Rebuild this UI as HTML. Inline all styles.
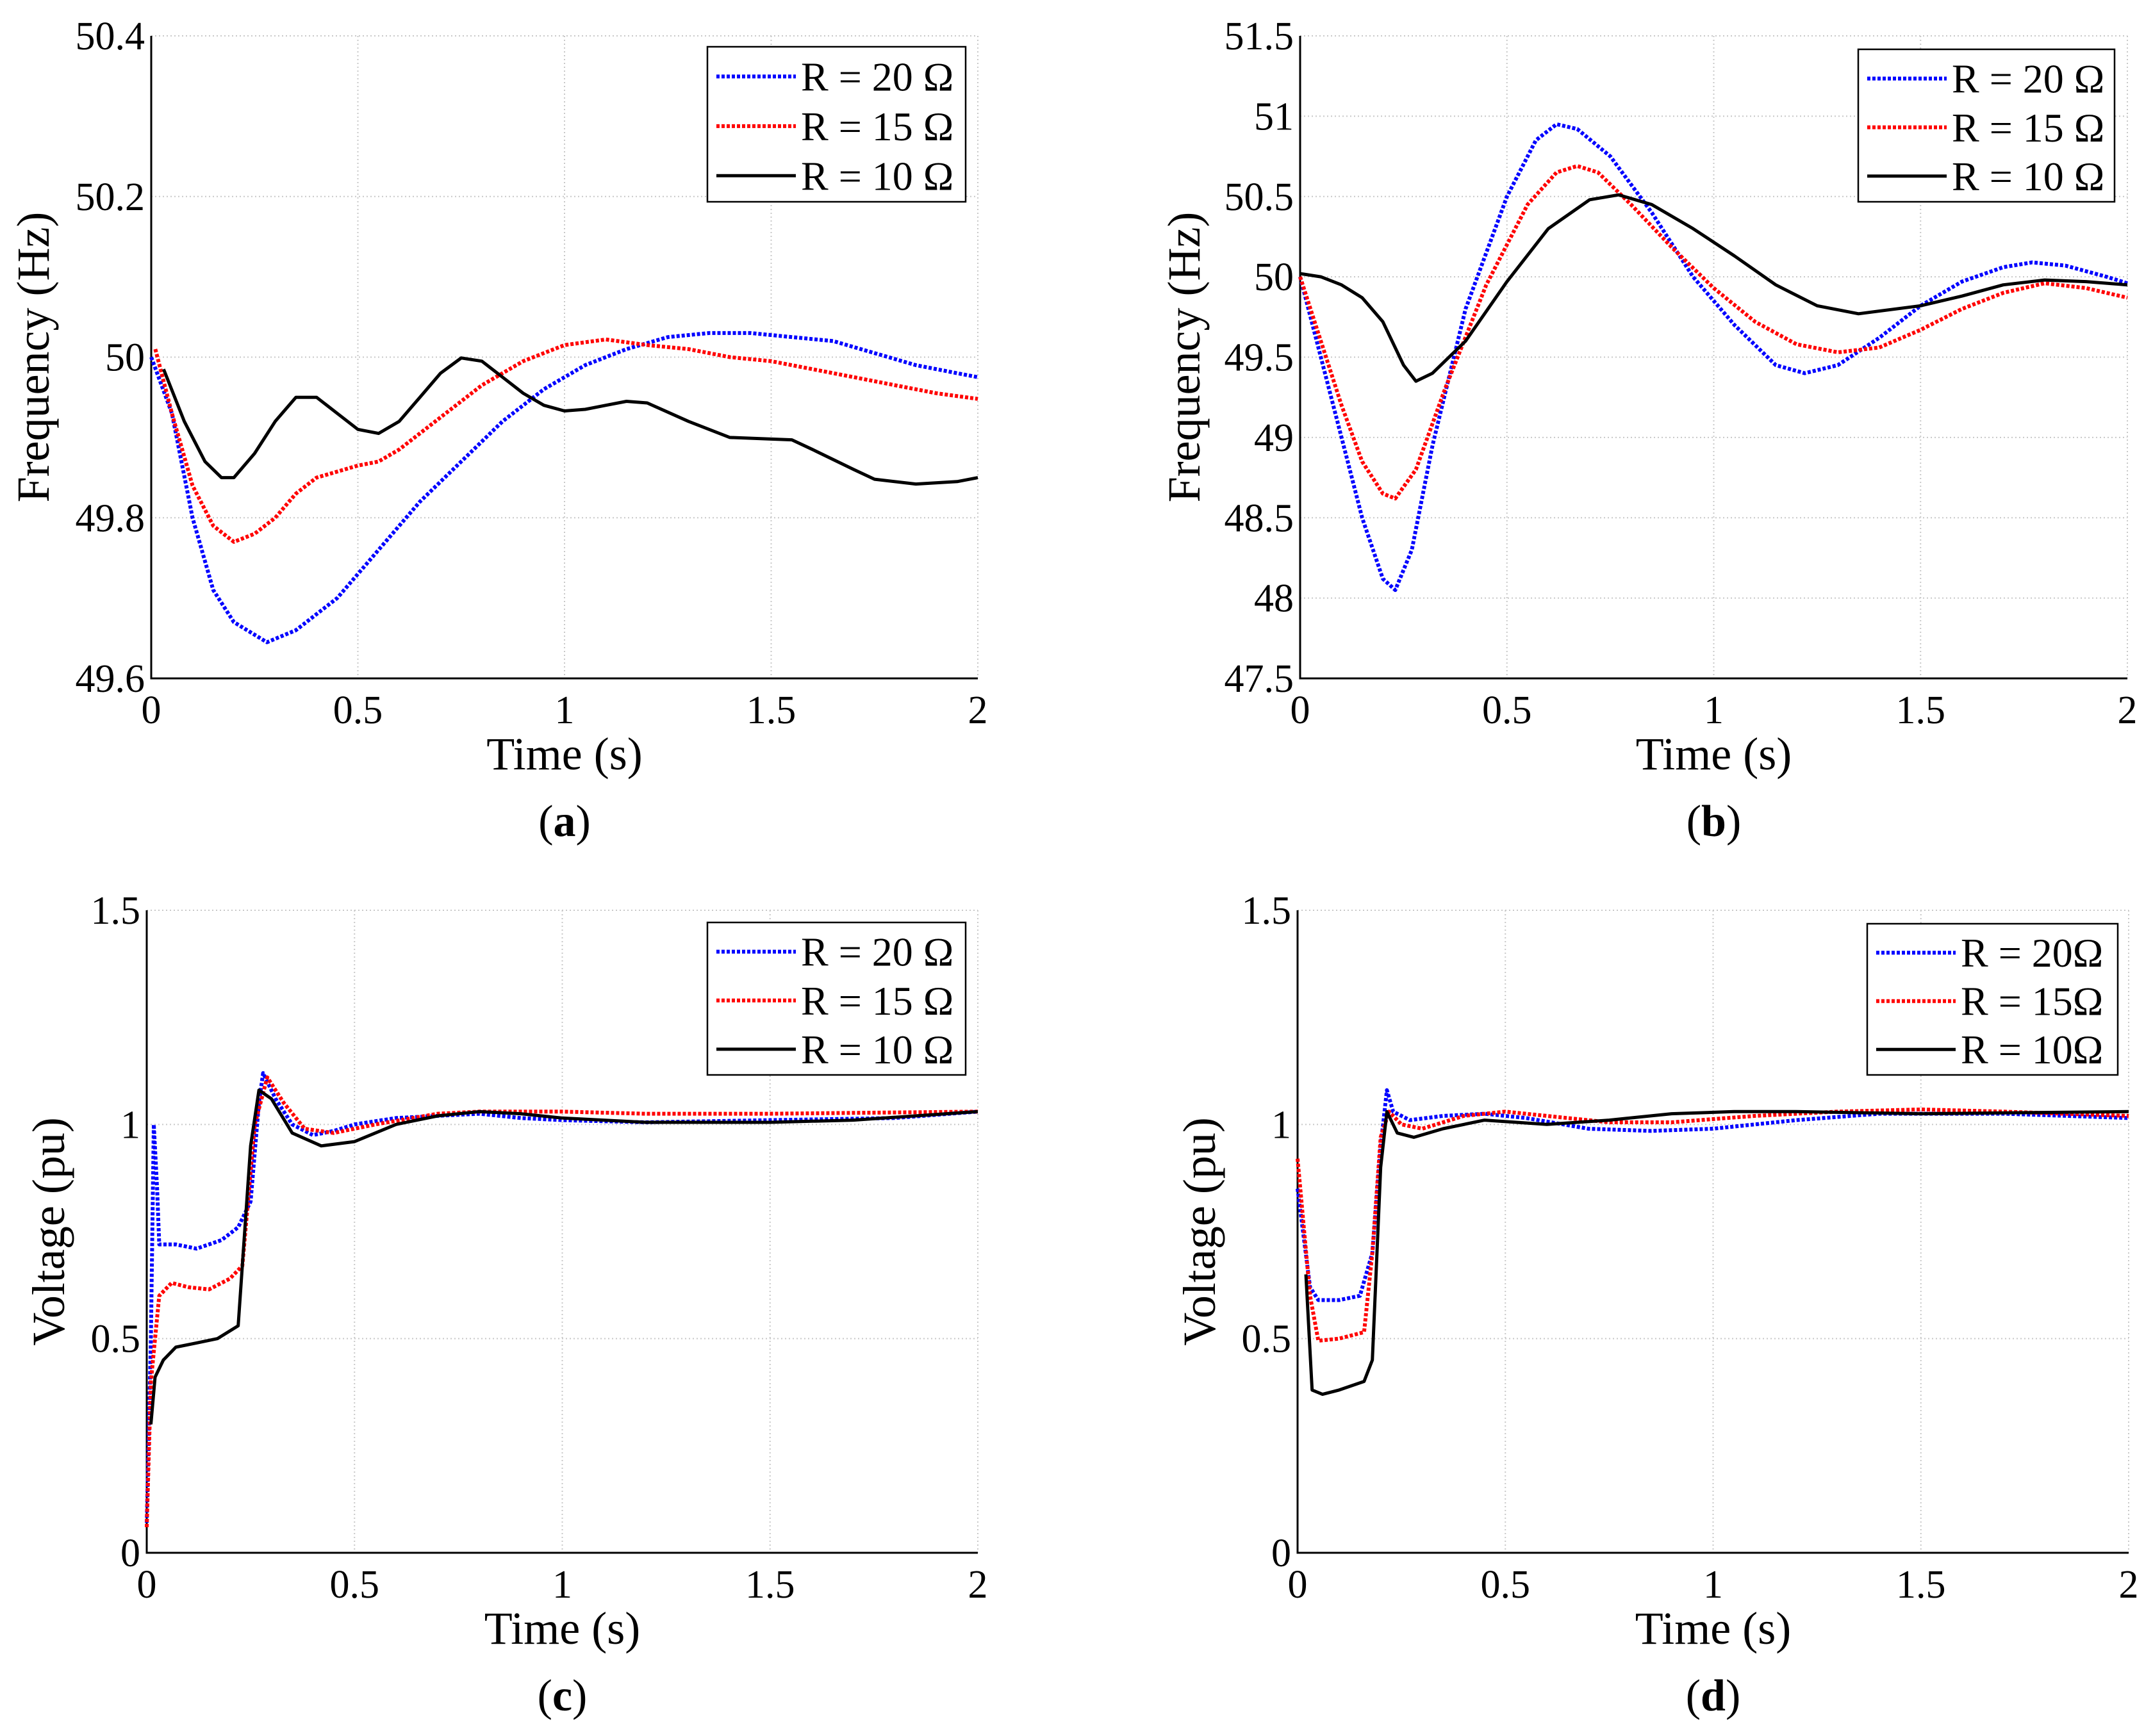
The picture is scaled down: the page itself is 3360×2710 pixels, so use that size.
<!DOCTYPE html>
<html><head><meta charset="utf-8"><style>
html,body{margin:0;padding:0;background:#fff;}
svg{display:block;font-family:"Liberation Serif",serif;}
</style></head><body>
<svg id="fig" width="3360" height="2710" viewBox="0 0 3360 2710" xmlns="http://www.w3.org/2000/svg"></svg>
<script>
// ---- data ----
const aBlueT=[0,0.05,0.1,0.15,0.2,0.28,0.35,0.45,0.55,0.65,0.75,0.85,0.95,1.05,1.15,1.25,1.35,1.45,1.55,1.65,1.75,1.85,1.95,2.0];
const aBlueV=[50.0,49.93,49.8,49.71,49.67,49.645,49.66,49.7,49.76,49.82,49.87,49.92,49.96,49.99,50.01,50.025,50.03,50.03,50.025,50.02,50.005,49.99,49.98,49.975];
const aRedT=[0.01,0.05,0.1,0.15,0.2,0.25,0.3,0.35,0.4,0.5,0.55,0.6,0.7,0.8,0.9,1.0,1.1,1.2,1.3,1.4,1.5,1.6,1.7,1.8,1.9,2.0];
const aRedV=[50.01,49.93,49.84,49.79,49.77,49.78,49.8,49.83,49.85,49.865,49.87,49.885,49.925,49.965,49.995,50.015,50.022,50.015,50.01,50.0,49.995,49.985,49.975,49.965,49.955,49.948];
const aBlackT=[0.03,0.08,0.13,0.17,0.2,0.25,0.3,0.35,0.4,0.45,0.5,0.55,0.6,0.65,0.7,0.75,0.8,0.85,0.9,0.95,1.0,1.05,1.1,1.15,1.2,1.3,1.4,1.5,1.55,1.6,1.7,1.75,1.85,1.95,2.0];
const aBlackV=[49.985,49.92,49.87,49.85,49.85,49.88,49.92,49.95,49.95,49.93,49.91,49.905,49.92,49.95,49.98,49.999,49.995,49.975,49.955,49.94,49.933,49.935,49.94,49.945,49.943,49.92,49.9,49.898,49.897,49.885,49.86,49.848,49.842,49.845,49.85];

const bBlueT=[0,0.05,0.1,0.15,0.2,0.23,0.27,0.32,0.4,0.5,0.57,0.62,0.67,0.75,0.85,0.95,1.05,1.15,1.22,1.3,1.4,1.5,1.6,1.7,1.77,1.85,1.95,2.0];
const bBlueV=[50.0,49.5,49.0,48.5,48.12,48.05,48.3,48.95,49.8,50.5,50.85,50.95,50.92,50.75,50.4,50.0,49.7,49.45,49.4,49.45,49.62,49.82,49.97,50.06,50.09,50.07,50.0,49.96];
const bRedT=[0,0.05,0.1,0.15,0.2,0.23,0.28,0.35,0.45,0.55,0.62,0.67,0.72,0.8,0.9,1.0,1.1,1.2,1.3,1.4,1.5,1.6,1.7,1.8,1.9,2.0];
const bRedV=[50.0,49.6,49.2,48.85,48.65,48.62,48.8,49.3,49.95,50.45,50.65,50.69,50.65,50.45,50.18,49.93,49.72,49.58,49.53,49.56,49.67,49.8,49.9,49.96,49.93,49.87];
const bBlackT=[0,0.05,0.1,0.15,0.2,0.25,0.28,0.32,0.4,0.5,0.6,0.7,0.77,0.85,0.95,1.05,1.15,1.25,1.35,1.5,1.6,1.7,1.8,1.9,2.0];
const bBlackV=[50.02,50.0,49.95,49.87,49.72,49.45,49.35,49.4,49.6,49.97,50.3,50.48,50.51,50.45,50.3,50.13,49.95,49.82,49.77,49.82,49.88,49.95,49.98,49.97,49.95];

const cBlueT=[0,0.01,0.017,0.025,0.03,0.07,0.12,0.18,0.22,0.25,0.27,0.28,0.31,0.35,0.4,0.45,0.5,0.6,0.8,0.9,1.0,1.2,1.5,1.8,2.0];
const cBlueV=[0.07,0.5,1.0,0.85,0.72,0.72,0.71,0.73,0.76,0.82,1.05,1.12,1.06,1.0,0.975,0.985,1.0,1.015,1.025,1.015,1.01,1.005,1.01,1.015,1.03];
const cRedT=[0,0.01,0.03,0.06,0.1,0.15,0.2,0.23,0.26,0.29,0.33,0.38,0.45,0.55,0.7,0.8,1.0,1.2,1.5,2.0];
const cRedV=[0.06,0.4,0.6,0.63,0.62,0.615,0.64,0.67,1.0,1.11,1.05,0.99,0.98,1.0,1.025,1.03,1.03,1.025,1.025,1.03];
const cBlackT=[0.01,0.02,0.04,0.07,0.12,0.17,0.22,0.25,0.27,0.3,0.35,0.42,0.5,0.6,0.7,0.8,0.9,1.0,1.2,1.5,1.7,2.0];
const cBlackV=[0.3,0.41,0.45,0.48,0.49,0.5,0.53,0.95,1.08,1.06,0.98,0.95,0.96,1.0,1.02,1.03,1.025,1.015,1.005,1.005,1.01,1.03];

const dBlueT=[0,0.03,0.05,0.1,0.15,0.18,0.2,0.215,0.23,0.27,0.35,0.45,0.55,0.7,0.85,1.0,1.2,1.4,1.7,2.0];
const dBlueV=[0.85,0.62,0.59,0.59,0.6,0.7,0.95,1.08,1.03,1.01,1.02,1.025,1.015,0.99,0.985,0.99,1.01,1.025,1.025,1.015];
const dRedT=[0,0.03,0.05,0.1,0.16,0.18,0.2,0.22,0.25,0.3,0.4,0.5,0.6,0.75,0.9,1.1,1.3,1.5,1.7,2.0];
const dRedV=[0.92,0.6,0.495,0.5,0.515,0.7,0.97,1.03,1.0,0.99,1.02,1.03,1.02,1.005,1.005,1.02,1.03,1.035,1.03,1.02];
const dBlackT=[0.02,0.035,0.06,0.1,0.16,0.18,0.2,0.215,0.24,0.28,0.35,0.45,0.6,0.75,0.9,1.05,1.2,1.5,2.0];
const dBlackV=[0.65,0.38,0.37,0.38,0.4,0.45,0.9,1.03,0.98,0.97,0.99,1.01,1.0,1.01,1.025,1.03,1.03,1.025,1.03];

const xTicks=[0,0.5,1,1.5,2];
const xTickLabels=["0","0.5","1","1.5","2"];
const aYTicks=[49.6,49.8,50,50.2,50.4];
const aYTickLabels=["49.6","49.8","50","50.2","50.4"];
const bYTicks=[47.5,48,48.5,49,49.5,50,50.5,51,51.5];
const bYTickLabels=["47.5","48","48.5","49","49.5","50","50.5","51","51.5"];
const vYTicks=[0,0.5,1,1.5];
const vYTickLabels=["0","0.5","1","1.5"];
const legendAB=["R = 20 Ω","R = 15 Ω","R = 10 Ω"];
const legendD=["R = 20Ω","R = 15Ω","R = 10Ω"];

const NS="http://www.w3.org/2000/svg";
const svg=document.getElementById('fig');
function mk(tag,attrs,parent){const e=document.createElementNS(NS,tag);for(const k in attrs)e.setAttribute(k,attrs[k]);(parent||svg).appendChild(e);return e;}

function panel(p){
  const g=mk('g',{});
  
  
  const sx=t=>p.x0+(t-p.tmin)/(p.tmax-p.tmin)*(p.x1-p.x0);
  const sy=v=>p.yb-(v-p.vmin)/(p.vmax-p.vmin)*(p.yb-p.yt);
  xTicks.forEach((t,i)=>{
    const l=mk('line',{x1:sx(t),x2:sx(t),y1:p.yt,y2:p.yb,stroke:'#c8c8c8','stroke-width':2,'stroke-dasharray':'2,4'},g);
    
    
    const tx=mk('text',{x:sx(t),y:p.yb+70,'font-size':62,'text-anchor':'middle'},g);
    tx.textContent=xTickLabels[i];
    
    
  });
  p.yTicks.forEach((v,i)=>{
    const l=mk('line',{x1:p.x0,x2:p.x1,y1:sy(v),y2:sy(v),stroke:'#c8c8c8','stroke-width':2,'stroke-dasharray':'2,4'},g);
    
    
    const tx=mk('text',{x:p.x0-10,y:sy(v)+21,'font-size':62,'text-anchor':'end'},g);
    tx.textContent=p.yLabels[i];
    
    
  });
  const ax=mk('path',{d:`M${p.x0},${p.yt}V${p.yb}H${p.x1}`,fill:'none',stroke:'#000','stroke-width':3},g);
  
  
  const series=[[p.s[0],p.s[1],'#0000ff','5,3','series-r20'],[p.s[2],p.s[3],'#ff0000','5,3','series-r15'],[p.s[4],p.s[5],'#000','none','series-r10']];
  series.forEach(s=>{
    const d=s[0].map((t,i)=>(i?'L':'M')+sx(t).toFixed(1)+','+sy(s[1][i]).toFixed(1)).join('');
    const pa=mk('path',{d,fill:'none',stroke:s[2],'stroke-width':s[3]==='none'?5:6,'stroke-dasharray':s[3],'stroke-linejoin':'round'},g);
    
    
  });
  const xl=mk('text',{x:(p.x0+p.x1)/2,y:p.yb+142,'font-size':72,'text-anchor':'middle'},g);
  xl.textContent='Time (s)';
  
  
  const yl=mk('text',{x:0,y:0,'font-size':72,'text-anchor':'middle',transform:`translate(${p.ylx},${(p.yt+p.yb)/2}) rotate(-90)`},g);
  yl.textContent=p.ytitle;
  
  
  const cap=mk('text',{x:(p.x0+p.x1)/2,y:p.yb+246,'font-size':70,'text-anchor':'middle'},g);
  cap.innerHTML='(<tspan font-weight="bold">'+p.id+'</tspan>)';
  
  
  const L=p.leg;
  const lg=mk('g',{},g);
  
  
  mk('rect',{x:L.x,y:L.y,width:L.w,height:L.h,fill:'#fff',stroke:'#000','stroke-width':2.5},lg);
  const cols=[['#0000ff','5,3'],['#ff0000','5,3'],['#000','none']];
  p.legText.forEach((tx,i)=>{
    const cy=L.y+L.h*(0.2+0.32*i)-2;
    const ln=mk('line',{x1:L.x+14,x2:L.x+138,y1:cy,y2:cy,stroke:cols[i][0],'stroke-width':cols[i][1]==='none'?5:6,'stroke-dasharray':cols[i][1]},lg);
    
    
    const t=mk('text',{x:L.x+146,y:cy+22,'font-size':64},lg);
    t.textContent=tx;
    
    
  });
}

panel({id:'a',x0:236,x1:1526,yt:56,yb:1059,tmin:0,tmax:2,vmin:49.6,vmax:50.4,yTicks:aYTicks,yLabels:aYTickLabels,
  s:[aBlueT,aBlueV,aRedT,aRedV,aBlackT,aBlackV],ytitle:'Frequency (Hz)',ylx:76,
  leg:{x:1104,y:73,w:403,h:242},legText:legendAB});
panel({id:'b',x0:2029,x1:3320,yt:56,yb:1059,tmin:0,tmax:2,vmin:47.5,vmax:51.5,yTicks:bYTicks,yLabels:bYTickLabels,
  s:[bBlueT,bBlueV,bRedT,bRedV,bBlackT,bBlackV],ytitle:'Frequency (Hz)',ylx:1872,
  leg:{x:2900,y:77,w:400,h:238},legText:legendAB});
panel({id:'c',x0:229,x1:1526,yt:1421,yb:2424,tmin:0,tmax:2,vmin:0,vmax:1.5,yTicks:vYTicks,yLabels:vYTickLabels,
  s:[cBlueT,cBlueV,cRedT,cRedV,cBlackT,cBlackV],ytitle:'Voltage (pu)',ylx:100,
  leg:{x:1104,y:1440,w:403,h:238},legText:legendAB});
panel({id:'d',x0:2025,x1:3322,yt:1421,yb:2424,tmin:0,tmax:2,vmin:0,vmax:1.5,yTicks:vYTicks,yLabels:vYTickLabels,
  s:[dBlueT,dBlueV,dRedT,dRedV,dBlackT,dBlackV],ytitle:'Voltage (pu)',ylx:1896,
  leg:{x:2914,y:1442,w:391,h:236},legText:legendD});
</script>
</body></html>
